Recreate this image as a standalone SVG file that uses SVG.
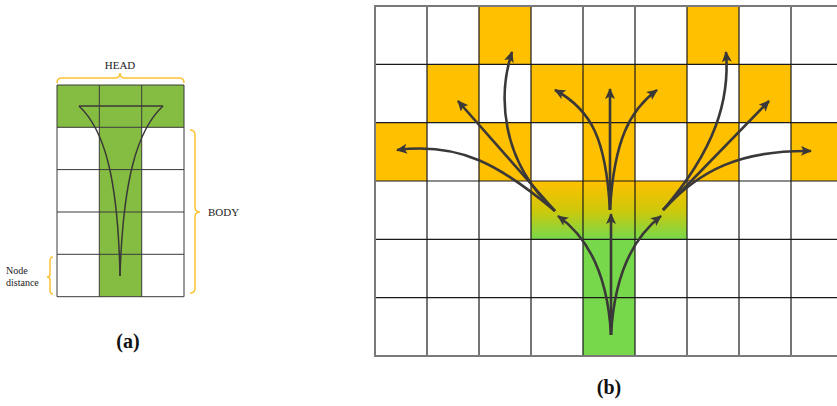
<svg xmlns="http://www.w3.org/2000/svg" width="837" height="406" viewBox="0 0 837 406">
<defs>
<style>
.ga{fill:#84bd42}
.la{stroke:#3a3a3a;stroke-width:1;fill:none}
.brace{stroke:#fcc235;stroke-width:1.5;fill:none}
.txt{font-family:"Liberation Serif",serif;fill:#222}
.lbl{font-family:"Liberation Serif",serif;font-weight:bold;font-size:20px;fill:#111}
.or{fill:#ffc000}
.gr{fill:#77d84c}
.lb{stroke:#1a1a1a;stroke-width:1.2;fill:none}
.lo{stroke:#7a7a7a;stroke-width:2;fill:none}
.arr{stroke:#3b3838;stroke-width:2.6;fill:none;marker-end:url(#ah)}
.ln{stroke:#3b3838;stroke-width:1.5;fill:none}
</style>
<marker id="ah" markerUnits="userSpaceOnUse" markerWidth="12" markerHeight="10" refX="10" refY="5" orient="auto">
<path d="M0,0 L11,5 L0,10 L2.5,5 Z" fill="#3b3838"/>
</marker>
<linearGradient id="og" x1="0" y1="0" x2="0" y2="1">
<stop offset="0" stop-color="#ffc000"/>
<stop offset="0.5" stop-color="#cfc80a"/>
<stop offset="1" stop-color="#77d84c"/>
</linearGradient>
</defs>

<!-- Part (a) -->
<g id="part-a">
<g id="a-cells">
<rect class="ga" x="57" y="85" width="127" height="42.3"/>
<rect class="ga" x="99.3" y="127.3" width="42.4" height="169.4"/>
</g>
<g id="a-grid" class="la">
<path d="M57,85 V296.7 M99.3,85 V296.7 M141.7,85 V296.7 M184,85 V296.7"/>
<path d="M57,85 H184 M57,127.3 H184 M57,169.6 H184 M57,212 H184 M57,254.3 H184 M57,296.7 H184"/>
</g>
<g id="a-funnel" class="ln">
<path d="M79,106 H163"/>
<path d="M79,106 C105,130 118,180 120,276"/>
<path d="M163,106 C137,130 123,180 120,276"/>
</g>
<g id="head-brace">
<path class="brace" d="M57,83 Q57,78 62,78 L115,78 Q120,78 120,73 Q120,78 125,78 L179,78 Q184,78 184,83"/>
<text class="txt" x="120" y="69" font-size="11" text-anchor="middle">HEAD</text>
</g>
<g id="body-brace">
<path class="brace" d="M190,130 Q195,130 195,135 L195,207 Q195,212 200,212 Q195,212 195,217 L195,288 Q195,293 190,293"/>
<text class="txt" x="208" y="216" font-size="11">BODY</text>
</g>
<g id="node-distance-brace">
<path class="brace" d="M53,257 Q50,257 50,261 L50,274 Q50,277 47,277 Q50,277 50,280 L50,290 Q50,294 53,294"/>
<text class="txt" x="6" y="274" font-size="10">Node</text>
<text class="txt" x="6" y="286" font-size="10">distance</text>
</g>
<text id="label-a" class="lbl" x="128" y="348" text-anchor="middle">(a)</text>
</g>

<!-- Part (b) -->
<g id="part-b">
<g id="b-cells">
<rect class="or" x="479" y="6" width="52" height="58.3"/>
<rect class="or" x="687" y="6" width="52" height="58.3"/>
<rect class="or" x="427" y="64.3" width="52" height="58.3"/>
<rect class="or" x="531" y="64.3" width="156" height="58.3"/>
<rect class="or" x="739" y="64.3" width="52" height="58.3"/>
<rect class="or" x="375" y="122.6" width="52" height="58.4"/>
<rect class="or" x="479" y="122.6" width="52" height="58.4"/>
<rect class="or" x="583" y="122.6" width="52" height="58.4"/>
<rect class="or" x="687" y="122.6" width="52" height="58.4"/>
<rect class="or" x="791" y="122.6" width="46" height="58.4"/>
<rect x="531" y="181" width="156" height="58.3" fill="url(#og)"/>
<rect class="gr" x="583" y="239.3" width="52" height="116.7"/>
</g>
<g id="b-grid">
<path class="lb" d="M427,6 V356 M479,6 V356 M531,6 V356 M583,6 V356 M635,6 V356 M687,6 V356 M739,6 V356 M791,6 V356"/>
<path class="lb" d="M375,64.3 H837 M375,122.6 H837 M375,181 H837 M375,239.3 H837 M375,297.6 H837"/>
<path class="lo" d="M837,6 H375 V356 H837"/>
</g>
<g id="connectors">
<path class="arr" d="M611,335 V214"/>
<path class="arr" d="M611,335 C608,280 592,240 558,216"/>
<path class="arr" d="M611,335 C614,280 630,240 661,216"/>
<path class="arr" d="M610,210 V89"/>
<path class="arr" d="M610,210 C606,140 592,110 555,90"/>
<path class="arr" d="M610,210 C614,140 630,110 657,90"/>
<path class="arr" d="M555,211 C500,165 460,142 397,150"/>
<path class="arr" d="M555,211 L458,101"/>
<path class="arr" d="M555,211 C500,160 498,95 512,52"/>
<path class="arr" d="M663,210 C715,150 730,100 726,52"/>
<path class="arr" d="M663,210 L769,101"/>
<path class="arr" d="M663,210 C700,170 740,150 811,151"/>
</g>
<text id="label-b" class="lbl" x="609" y="394" text-anchor="middle">(b)</text>
</g>
</svg>
